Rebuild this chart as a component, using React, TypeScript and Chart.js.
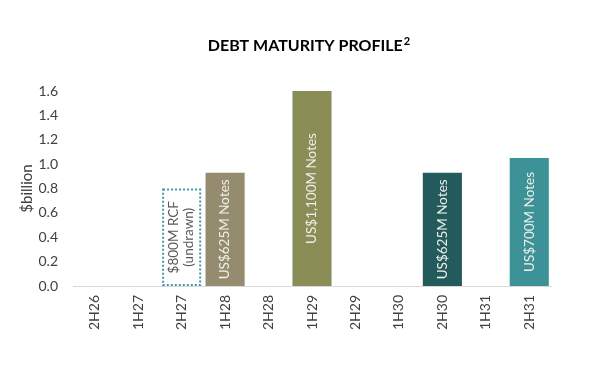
import React, { useEffect, useRef } from 'react';
import { Chart, registerables } from 'chart.js';

Chart.register(...registerables);

const categories = ['2H26', '1H27', '2H27', '1H28', '2H28', '1H29', '2H29', '1H30', '2H30', '1H31', '2H31'];
const maturities: (number | null)[] = [null, null, 0.8, 0.93, null, 1.6, null, null, 0.93, null, 1.05];
const barLabels = ['', '', '$800M RCF\n(undrawn)', 'US$625M Notes', '', 'US$1,100M Notes', '', '', 'US$625M Notes', '', 'US$700M Notes'];
const undrawn = [false, false, true, false, false, false, false, false, false, false, false];
const yTicks = [0, 0.2, 0.4, 0.6, 0.8, 1.0, 1.2, 1.4, 1.6];
const titleText = 'DEBT MATURITY PROFILE';
const titleSup = '2';
const yTitle = '$billion';

const barColors = ['#ffffff', '#ffffff', '#ffffff', '#958b6e', '#ffffff', '#8a8e56', '#ffffff', '#ffffff', '#235a5b', '#ffffff', '#3d9297'];
const FONT = 'Lato, "Open Sans", sans-serif';

const W = 602;
const H = 367;

const overlayPlugin = {
  id: 'overlay',
  afterDatasetsDraw(chart: any) {
    const ctx = chart.ctx as CanvasRenderingContext2D;
    const meta = chart.getDatasetMeta(0);
    meta.data.forEach((bar: any, i: number) => {
      if (maturities[i] == null) return;
      const { x, y, base, width } = bar.getProps(['x', 'y', 'base', 'width'], true);
      if (undrawn[i]) {
        ctx.save();
        ctx.strokeStyle = '#3a9aa6';
        ctx.lineWidth = 2;
        ctx.setLineDash([2, 2]);
        ctx.strokeRect(x - width / 2 + 1, y + 1, width - 2, base - y - 2);
        ctx.restore();
      }
      const lines = barLabels[i].split('\n');
      ctx.save();
      ctx.translate(x, (y + base) / 2);
      ctx.rotate(-Math.PI / 2);
      ctx.textAlign = 'center';
      ctx.textBaseline = 'middle';
      ctx.fillStyle = undrawn[i] ? '#595959' : '#eeeeea';
      ctx.font = `13.5px ${FONT}`;
      const lh = 15;
      lines.forEach((l, k) => ctx.fillText(l, 0, (k - (lines.length - 1) / 2) * lh));
      ctx.restore();
    });
  },
  afterDraw(chart: any) {
    const ctx = chart.ctx as CanvasRenderingContext2D;
    ctx.save();
    ctx.fillStyle = '#000000';
    ctx.textBaseline = 'alphabetic';
    ctx.font = `bold 16px ${FONT}`;
    const mainW = ctx.measureText(titleText).width;
    ctx.font = `bold 11px ${FONT}`;
    const supW = ctx.measureText(titleSup).width;
    const total = mainW + 1 + supW;
    const x0 = 309 - total / 2;
    ctx.textAlign = 'left';
    ctx.font = `bold 16px ${FONT}`;
    ctx.fillText(titleText, x0, 51);
    ctx.font = `bold 11px ${FONT}`;
    ctx.fillText(titleSup, x0 + mainW + 1, 45);
    ctx.restore();
  },
};

export default function App() {
  const ref = useRef<HTMLCanvasElement | null>(null);
  useEffect(() => {
    if (!ref.current) return;
    const chart = new Chart(ref.current, {
      type: 'bar',
      data: {
        labels: categories,
        datasets: [
          {
            data: maturities as any,
            backgroundColor: barColors,
            borderWidth: 0,
            barPercentage: 0.9,
            categoryPercentage: 1,
          },
        ],
      },
      options: {
        animation: false,
        responsive: false,
        maintainAspectRatio: false,
        layout: { padding: { top: 91, right: 51, bottom: 0, left: 0 } },
        plugins: {
          legend: { display: false },
          tooltip: { enabled: false },
          title: { display: false },
        },
        scales: {
          x: {
            grid: { display: false, drawTicks: false },
            border: { display: true, color: '#d9d9d9', width: 1 },
            ticks: {
              minRotation: 90,
              maxRotation: 90,
              padding: 9,
              color: '#404040',
              font: { family: FONT, size: 14 },
            },
            afterFit: (s: any) => {
              s.height = 81;
            },
          },
          y: {
            min: 0,
            max: 1.6,
            grid: { display: false, drawTicks: false },
            border: { display: false },
            afterBuildTicks: (s: any) => {
              s.ticks = yTicks.map((v) => ({ value: v }));
            },
            ticks: {
              padding: 15,
              color: '#404040',
              font: { family: FONT, size: 14 },
              callback: (v: any) => Number(v).toFixed(1),
            },
            title: {
              display: true,
              text: yTitle,
              color: '#404040',
              font: { family: FONT, size: 15 },
              padding: { top: 18, bottom: 0 },
            },
            afterFit: (s: any) => {
              s.width = 73;
            },
          },
        },
      },
      plugins: [overlayPlugin],
    });
    return () => chart.destroy();
  }, []);
  return (
    <div style={{ position: 'absolute', left: 0, top: 0, width: W, height: H, background: '#fff' }}>
      <canvas ref={ref} width={W} height={H} style={{ width: W, height: H, display: 'block' }} />
    </div>
  );
}
